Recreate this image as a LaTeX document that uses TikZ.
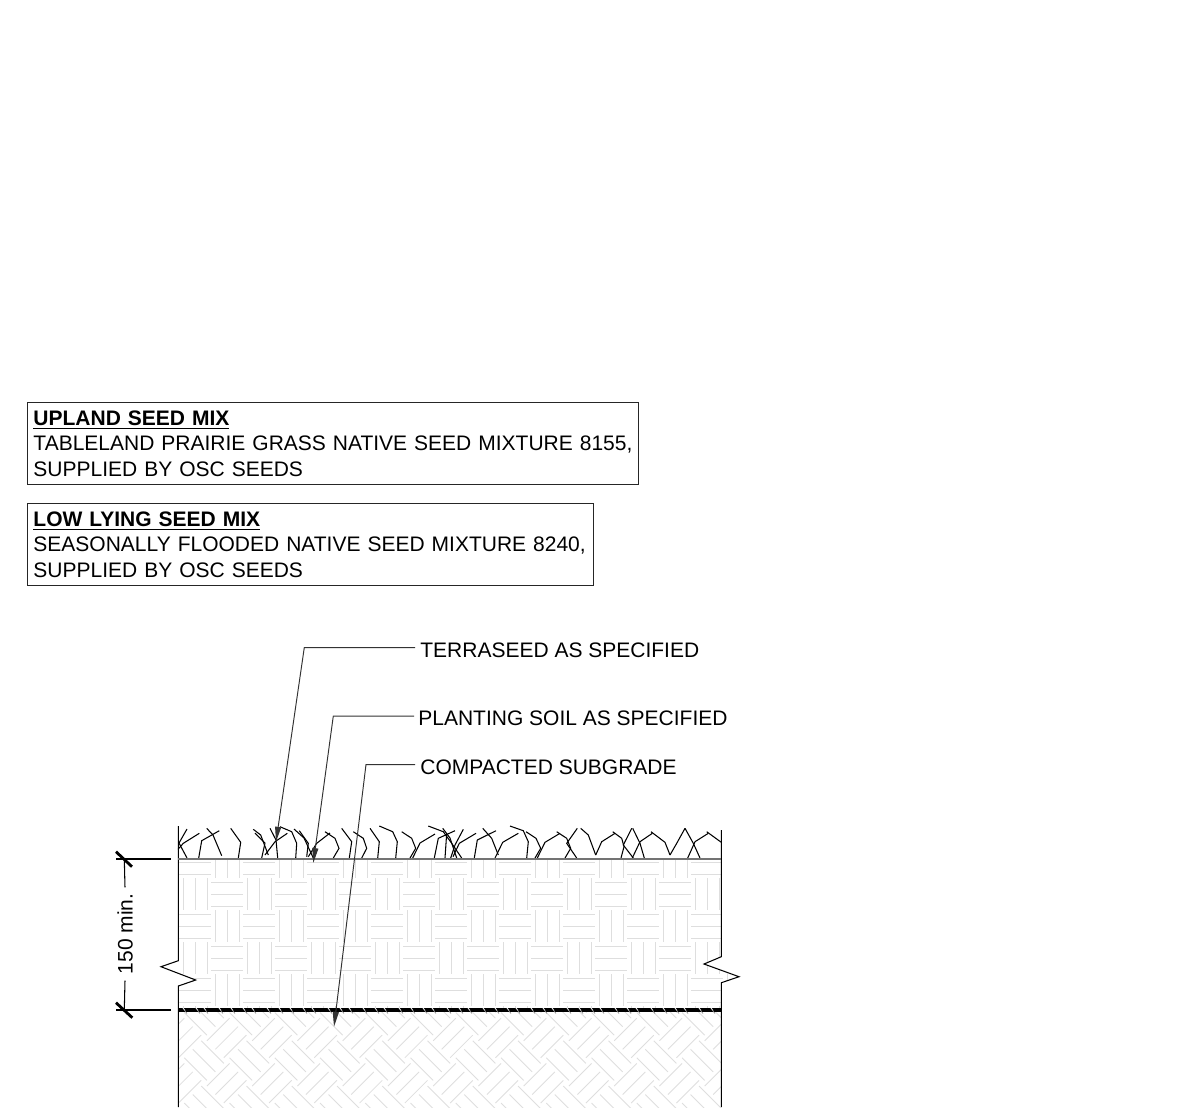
\documentclass[tikz,border=0pt]{standalone}
\usepackage{fontspec}
\setmainfont{Liberation Sans}
\usetikzlibrary{arrows.meta}
\newsavebox{\headbox}
\newcommand{\headline}[1]{\sbox{\headbox}{\textbf{#1}}\rlap{\rule[-2.4pt]{\wd\headbox}{0.8pt}}\usebox{\headbox}}
\begin{document}
\begin{tikzpicture}[x=0.02cm, y=-0.02cm,
		box_style/.style={draw=black!85,line width=0.55pt,anchor=north west,align=left,inner xsep=0.12cm,inner ysep=0pt,font=\fontsize{11.95pt}{14.5pt}\selectfont},
		label_style/.style={anchor=west,inner sep=0pt,font=\fontsize{11.95pt}{14.5pt}\selectfont},
		leader_style/.style={draw=black!80,line width=0.55pt,-{Triangle[length=8.5pt,width=3.4pt]}},
		hatch_style/.style={draw=black!13,line width=0.5pt},
		grass_style/.style={draw=black,line width=0.6pt},
		edge_style/.style={draw=black,line width=0.6pt},
		tick_style/.style={draw=black,line width=1.6pt}]

		\useasboundingbox (0,0) rectangle (1199,1107);

		% seed mix boxes
		\node[box_style,text width=11.98cm,minimum height=1.64cm] (n_upland) at (27,402) {\headline{UPLAND SEED MIX}\\\mbox{TABLELAND PRAIRIE GRASS NATIVE SEED MIXTURE 8155,}\\SUPPLIED BY OSC SEEDS};
		\node[box_style,text width=11.08cm,minimum height=1.64cm] (n_lowlying) at (27,503) {\headline{LOW LYING SEED MIX}\\\mbox{SEASONALLY FLOODED NATIVE SEED MIXTURE 8240,}\\SUPPLIED BY OSC SEEDS};

		% soil hatch
		\begin{scope}
			\clip (178.3,859) -- (178.3,960.7) -- (161,966.7) -- (195.7,980) -- (178.3,986) -- (178.3,1010) -- (721.3,1010) -- (721.3,982.7) -- (739,976.7) -- (704,964) -- (721.3,956.7) -- (721.3,859) -- cycle;
			\foreach \r in {0,...,5} {
				\foreach \c in {0,...,8} {
					\pgfmathsetmacro\yy{846+32*\r}
					\pgfmathsetmacro\xa{179+64*\c+32*mod(\r,2)}
					\pgfmathsetmacro\xb{179+64*\c+32*mod(\r+1,2)}
					\foreach \o in {4,16,28} {
						\draw[hatch_style] (\xa,\yy+\o) -- (\xa+32,\yy+\o);
						\draw[hatch_style] (\xb+\o,\yy) -- (\xb+\o,\yy+32);
					}
				}
			}
		\end{scope}

		% subgrade hatch
		\begin{scope}
			\clip (178.3,1011) rectangle (721.3,1107);
			\begin{scope}[shift={(475.6,1037.9)},rotate=45]
				\foreach \r in {-15,...,14} {
					\foreach \c in {-15,...,14} {
						\pgfmathtruncatemacro\k{mod(\r+\c+40,2)}
						\foreach \o in {4,16,28} {
							\ifnum\k=0
								\draw[hatch_style] (32*\c,32*\r+\o) -- (32*\c+32,32*\r+\o);
							\else
								\draw[hatch_style] (32*\c+\o,32*\r) -- (32*\c+\o,32*\r+32);
							\fi
						}
					}
				}
			\end{scope}
		\end{scope}

		% grass
		\foreach \p in {
			{(187,829) -- (179,843) -- (187,858)},
			{(199.3,833.3) -- (183.3,843.3) -- (178,849.3)},
			{(219.3,830.7) -- (201.7,840.7) -- (198.7,858)},
			{(206.7,828.3) -- (213,835) -- (221.7,855.7)},
			{(230.7,828.3) -- (240.7,842.3) -- (238.3,858)},
			{(253.3,829.3) -- (260.7,835) -- (268.3,855)},
			{(255,833) -- (265,843) -- (261.7,858)},
			{(270,828.3) -- (276,840) -- (277.7,858)},
			{(287.3,833.3) -- (275,841.7) -- (265,855)},
			{(280,826.7) -- (291.7,831.7) -- (296.7,843.3) -- (295.7,858)},
			{(294,829) -- (304,838) -- (313.3,858)},
			{(299.3,830.7) -- (308.3,843.3) -- (306.7,856.7)},
			{(330,833) -- (316.7,843.3) -- (308.3,856.7)},
			{(325,831.7) -- (335,838.3) -- (339,848.3) -- (333.3,858)},
			{(341.7,828.3) -- (351.7,841.7) -- (349.3,858)},
			{(353.3,831.7) -- (363.3,838.3) -- (366.7,848.3) -- (361.7,858)},
			{(370,828.3) -- (379.3,841.7) -- (377.7,858)},
			{(379.3,826) -- (392.7,831.7) -- (397.3,841.7) -- (395.7,858)},
			{(401.7,831.7) -- (411.7,838.3) -- (415.7,848.3) -- (410,858)},
			{(435,834) -- (420,843) -- (412.7,858)},
			{(428.3,826) -- (443.3,831.7) -- (451.7,843.3) -- (461.7,858)},
			{(442.7,828.3) -- (450,838) -- (456.7,858)},
			{(455,830.7) -- (438.3,838.3) -- (434.3,858)},
			{(446.7,833) -- (445,858)},
			{(463.3,829.3) -- (455,845) -- (450.7,858)},
			{(476,833.3) -- (459.3,843.3) -- (453,856.7)},
			{(496,830.7) -- (477.3,840) -- (474.3,858)},
			{(482.7,828.3) -- (491.7,838.3) -- (498.3,855)},
			{(518.3,833.3) -- (502.7,842.3) -- (495,858)},
			{(510,826) -- (523.3,830.7) -- (528.3,841.7) -- (526.7,858)},
			{(526,831.7) -- (536,838.3) -- (540.7,848.3) -- (535,858)},
			{(560,833.3) -- (545,842.3) -- (537.3,858)},
			{(556.7,831.7) -- (566.7,838.3) -- (570.7,848.3) -- (565,858)},
			{(577.3,828.3) -- (566.7,843.3) -- (576.7,858)},
			{(580.7,828.3) -- (588.3,835) -- (595.7,855)},
			{(615,833.3) -- (601.7,841.7) -- (595.7,855)},
			{(612.7,831.7) -- (621.7,838.3) -- (624,846.7) -- (621,858)},
			{(631.7,828.3) -- (623.3,845) -- (633.3,858)},
			{(632.7,828.3) -- (640,843.3) -- (644.3,858)},
			{(652.3,833.3) -- (640,841.7) -- (632.3,858)},
			{(651,831.7) -- (665,842.3) -- (670,855)},
			{(685,828.3) -- (676.7,843.3) -- (670,855)},
			{(685,828.3) -- (693.3,843.3) -- (700,858)},
			{(708.3,833.3) -- (695,841.7) -- (687.7,858)},
			{(706.7,831.7) -- (721.3,842.3)}} {
			\draw[grass_style] \p;
		}

		% section edges
		\draw[edge_style] (178.3,826) -- (178.3,960.7) -- (161,966.7) -- (195.7,980) -- (178.3,986) -- (178.3,1107);
		\draw[edge_style] (721.3,830) -- (721.3,956.7) -- (704,964) -- (739,976.7) -- (721.3,982.7) -- (721.3,1107);
		\draw[draw=black!55,line width=1.1pt] (178.3,859) -- (721.3,859);
		\draw[draw=black,line width=2pt] (178.3,1010) -- (721.3,1010);
		\foreach \x in {183,196,204,219,231,243,252,267,279,290,303,312,328,340,349,363,375,384,399,411,423,432,447,459,468,483,495,507,516,531,543,552,567,579,591,600,615,627,636,651,663,675,684,699,711} {
			\draw[draw=white,line width=0.45pt] (\x,1008) -- (\x+2,1010.5);
			\draw[draw=black!50,line width=0.35pt] (\x+2,1011) -- (\x+4,1013.5);
		}

		% leaders
		\node[label_style] (n_terraseed) at (420,650) {TERRASEED AS SPECIFIED};
		\node[label_style] (n_planting) at (418,718) {PLANTING SOIL AS SPECIFIED};
		\node[label_style] (n_subgrade) at (420,767) {COMPACTED SUBGRADE};
		\coordinate (c_terraseed) at (304.3,647.5);
		\coordinate (t_terraseed) at (276,841.7);
		\coordinate (c_planting) at (333.3,716);
		\coordinate (t_planting) at (313.3,863);
		\coordinate (c_subgrade) at (366,764.5);
		\coordinate (t_subgrade) at (334,1026.7);
		\draw[leader_style] ([xshift=-0.1cm,yshift=0.05cm]n_terraseed.west) -- (c_terraseed) -- (t_terraseed);
		\draw[leader_style] ([xshift=-0.08cm,yshift=0.04cm]n_planting.west) -- (c_planting) -- (t_planting);
		\draw[leader_style] ([xshift=-0.1cm,yshift=0.05cm]n_subgrade.west) -- (c_subgrade) -- (t_subgrade);

		% dimension
		\node[inner sep=0pt,rotate=90,font=\fontsize{11.95pt}{14.5pt}\selectfont] (n_dim) at (125,934) {150 min.};
		\coordinate (d_top) at (124.3,859);
		\coordinate (d_bot) at (124.3,1010);
		\draw[edge_style] (116,859) -- (171,859);
		\draw[edge_style] (116,1010) -- (171,1010);
		\draw[edge_style] ([yshift=0.12cm]n_dim.east) -- (d_top);
		\draw[edge_style] ([yshift=-0.12cm]n_dim.west) -- (d_bot);
		\draw[tick_style] (116,851.7) -- (132,866.7);
		\draw[tick_style] (116,1002.7) -- (132.3,1017.7);
\end{tikzpicture}
\end{document}
